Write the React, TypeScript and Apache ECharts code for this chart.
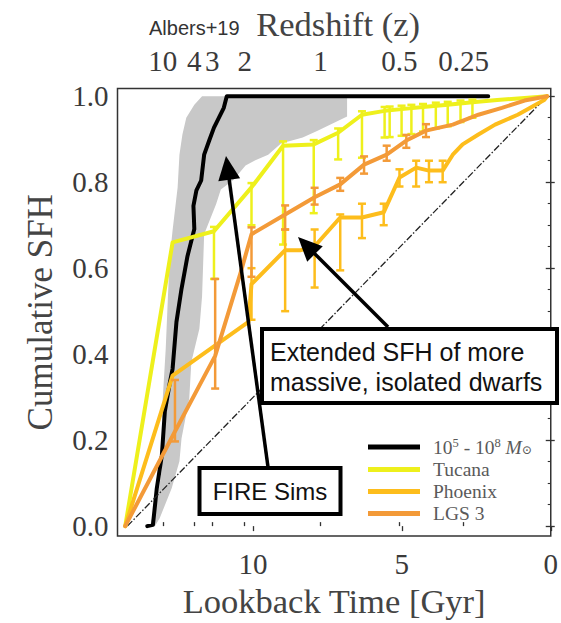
import React, { useEffect, useRef } from "react";
import * as echarts from "echarts";

// Lookback time [Gyr] against cumulative fraction of stellar mass formed.

// FIRE simulated dwarfs, 10^5 - 10^8 Msun: median track
const fireMedian: [number, number][] = [
  [13.55, 0], [13.36, 0.003], [13.23, 0.088], [13.06, 0.165], [12.96, 0.267],
  [12.8, 0.331], [12.7, 0.366], [12.57, 0.475], [12.4, 0.552], [12.2, 0.628],
  [11.97, 0.691], [12.0, 0.745], [11.9, 0.781], [11.74, 0.804], [11.64, 0.864],
  [11.47, 0.897], [11.31, 0.927], [10.98, 0.973], [10.88, 1.0], [2.1, 1.0],
];
// FIRE scatter: early-forming edge (bottom to top)
const fireEarlyEdge: [number, number][] = [
  [13.46, 0], [13.2, 0.065], [13.06, 0.134], [13.03, 0.297], [12.93, 0.413],
  [12.86, 0.528], [12.8, 0.621], [12.7, 0.688], [12.53, 0.788], [12.47, 0.864],
  [12.37, 0.911], [12.24, 0.95], [11.97, 0.98], [11.71, 1.0],
];
// FIRE scatter: late-forming edge (top to bottom)
const fireLateEdge: [number, number][] = [
  [6.84, 1.0], [6.84, 0.953], [7.83, 0.92], [8.33, 0.904], [9.06, 0.89],
  [9.49, 0.864], [9.92, 0.851], [10.25, 0.839], [10.65, 0.806], [11.08, 0.783],
  [11.24, 0.749], [11.64, 0.679], [11.71, 0.535], [11.8, 0.459], [12.07, 0.382],
  [12.14, 0.297], [12.4, 0.204], [12.47, 0.151], [12.73, 0.088], [13.13, 0.019],
  [13.29, 0],
];

const tucana: [number, number][] = [
  [14.29, 0], [12.7, 0.66], [11.31, 0.686], [10.05, 0.788], [8.99, 0.885],
  [7.96, 0.888], [7.14, 0.915], [6.34, 0.957], [5.58, 0.966], [5.01, 0.97],
  [4.29, 0.975], [3.46, 0.98], [2.63, 0.986], [1.8, 0.991], [0.88, 0.996],
  [0.12, 1.0],
];
// [lookback, lower, upper]
const tucanaErr: [number, number, number][] = [
  [11.31, 0.575, 0.696], [10.05, 0.7, 0.798], [8.99, 0.655, 0.895],
  [7.96, 0.728, 0.898], [7.14, 0.853, 0.925], [6.34, 0.857, 0.965],
  [5.58, 0.904, 0.975], [5.41, 0.905, 0.976], [5.01, 0.908, 0.978],
  [4.68, 0.912, 0.98], [4.29, 0.918, 0.982], [3.86, 0.925, 0.985],
  [3.46, 0.93, 0.987], [3.03, 0.94, 0.99], [2.63, 0.95, 0.992],
];

const phoenix: [number, number][] = [
  [14.29, 0], [12.7, 0.35], [10.15, 0.475], [10.05, 0.563], [8.92, 0.642],
  [8.39, 0.642], [7.93, 0.651], [7.07, 0.718], [6.34, 0.718], [5.61, 0.73],
  [5.08, 0.811], [4.52, 0.834], [4.09, 0.827], [3.63, 0.827], [3.29, 0.864],
  [2.96, 0.888], [2.43, 0.911], [1.87, 0.934], [1.11, 0.957], [0.22, 0.991],
  [0.12, 1.0],
];
const phoenixErr: [number, number, number][] = [
  [10.05, 0.48, 0.6], [8.92, 0.5, 0.69], [7.93, 0.555, 0.69], [7.07, 0.595, 0.725],
  [6.34, 0.67, 0.75], [5.61, 0.7, 0.75], [5.08, 0.79, 0.83], [4.52, 0.79, 0.85],
  [4.09, 0.8, 0.85], [3.63, 0.8, 0.85],
];

const lgs3: [number, number][] = [
  [14.29, 0], [12.62, 0.22], [11.27, 0.396], [10.41, 0.591], [10.05, 0.679],
  [8.92, 0.725], [7.93, 0.765], [7.07, 0.795], [6.27, 0.841], [5.51, 0.864],
  [4.85, 0.897], [4.19, 0.92], [3.29, 0.934], [2.43, 0.957], [1.64, 0.973],
  [0.88, 0.99], [0.12, 1.0],
];
const lgs3Err: [number, number, number][] = [
  [12.62, 0.197, 0.34], [11.27, 0.32, 0.575], [10.05, 0.58, 0.695],
  [8.92, 0.69, 0.746], [7.93, 0.748, 0.787], [7.07, 0.78, 0.81],
  [6.27, 0.82, 0.86], [5.51, 0.85, 0.885], [4.85, 0.88, 0.91], [4.19, 0.905, 0.935],
];

// constant star formation reference
const constantSfh: [number, number][] = [[14.22, 0], [0.12, 1.0]];

const lookbackTicks = [0, 5, 10];
const redshiftLabels = ["10", "4", "3", "2", "1", "0.5", "0.25"];
const redshiftLookback = [13.03, 11.97, 11.37, 10.28, 7.73, 5.08, 2.93];
const sfhTicks = [0, 0.2, 0.4, 0.6, 0.8, 1.0];
const sfhMinorTicks = [
  0.05, 0.1, 0.15, 0.25, 0.3, 0.35, 0.45, 0.5, 0.55, 0.65, 0.7, 0.75, 0.85, 0.9, 0.95,
];

const SERIF = "'Liberation Serif', 'DejaVu Serif', serif";
const SANS = "'Liberation Sans', Arial, sans-serif";
const C_TUC = "#eef01c";
const C_PHX = "#fdbd1c";
const C_LGS = "#f39a38";
const INK = "#3a3a3a";

function errorBars(color: string, data: [number, number, number][], z: number) {
  return {
    type: "custom",
    data,
    encode: { x: 0, y: [1, 2] },
    z,
    silent: true,
    renderItem: (_p: any, api: any) => {
      const t = api.value(0);
      const a = api.coord([t, api.value(1)]);
      const b = api.coord([t, api.value(2)]);
      const cap = 4;
      const style = { stroke: color, lineWidth: 2.5 };
      return {
        type: "group",
        children: [
          { type: "line", shape: { x1: a[0], y1: a[1], x2: b[0], y2: b[1] }, style },
          { type: "line", shape: { x1: a[0] - cap, y1: a[1], x2: a[0] + cap, y2: a[1] }, style },
          { type: "line", shape: { x1: b[0] - cap, y1: b[1], x2: b[0] + cap, y2: b[1] }, style },
        ],
      };
    },
  };
}

function track(name: string, color: string, data: [number, number][], z: number, width = 4) {
  return {
    type: "line",
    name,
    data,
    z,
    showSymbol: false,
    silent: true,
    lineStyle: { color, width, cap: "round", join: "round" },
  };
}

function arrow(tail: [number, number], tip: [number, number]) {
  const dx = tip[0] - tail[0];
  const dy = tip[1] - tail[1];
  const len = Math.hypot(dx, dy);
  const ux = dx / len;
  const uy = dy / len;
  const headLen = 24;
  const half = 11;
  const bx = tip[0] - ux * headLen;
  const by = tip[1] - uy * headLen;
  return [
    {
      type: "line",
      shape: { x1: tail[0], y1: tail[1], x2: bx + ux * 4, y2: by + uy * 4 },
      style: { stroke: "#000", lineWidth: 3.5 },
      z: 20,
    },
    {
      type: "polygon",
      shape: {
        points: [
          [tip[0], tip[1]],
          [bx - uy * half, by + ux * half],
          [bx + uy * half, by - ux * half],
        ],
      },
      style: { fill: "#000" },
      z: 20,
    },
  ];
}

function legendRow(y: number, color: string, width: number, label: any) {
  return [
    {
      type: "line",
      shape: { x1: 368, y1: y, x2: 420, y2: y },
      style: { stroke: color, lineWidth: width },
      z: 30,
    },
    {
      type: "text",
      x: 433,
      y,
      style: { ...label, verticalAlign: "middle", align: "left" },
      z: 30,
    },
  ];
}

export default function App() {
  const ref = useRef<HTMLDivElement>(null);

  useEffect(() => {
    if (!ref.current) return;
    const chart = echarts.init(ref.current, null, { renderer: "svg" });
    const xRange = { min: 0, max: 14.55, inverse: true };
    const yRange = { min: -0.023, max: 1.018 };

    const legendLabelStyle = { fontFamily: SERIF, fontSize: 19.5, fill: "#5a5a5a" };

    chart.setOption({
      animation: false,
      backgroundColor: "#fff",
      grid: {
        left: 117.5,
        top: 88.5,
        right: 4.5,
        bottom: 85,
        show: true,
        borderColor: "#333",
        borderWidth: 1.5,
        backgroundColor: "transparent",
      },
      xAxis: [
        {
          type: "value",
          position: "bottom",
          ...xRange,
          name: "Lookback Time [Gyr]",
          nameLocation: "middle",
          nameGap: 47,
          nameTextStyle: { fontFamily: SERIF, fontSize: 34.5, color: "#444" },
          axisLine: { show: false },
          splitLine: { show: false },
          axisTick: { show: true, inside: false, length: 5, customValues: lookbackTicks, lineStyle: { color: "#333", width: 1.3 } },
          axisLabel: {
            customValues: lookbackTicks,
            fontFamily: SERIF,
            fontSize: 29,
            color: INK,
            margin: 13,
            formatter: (v: number) => String(v),
          },
        },
        {
          type: "value",
          position: "top",
          ...xRange,
          name: "Redshift (z)",
          nameLocation: "middle",
          nameGap: 43,
          nameTextStyle: { fontFamily: SERIF, fontSize: 34.5, color: "#444", padding: [0, 0, 0, 8] },
          axisLine: { show: false },
          splitLine: { show: false },
          axisTick: { show: true, inside: false, length: 4, customValues: redshiftLookback, lineStyle: { color: "#333", width: 1.3 } },
          axisLabel: {
            customValues: redshiftLookback,
            fontFamily: SERIF,
            fontSize: 29,
            color: INK,
            margin: 13,
            formatter: (v: number) => redshiftLabels[redshiftLookback.indexOf(v)] ?? "",
          },
        },
      ],
      yAxis: [
        {
          type: "value",
          position: "left",
          ...yRange,
          name: "Cumulative SFH",
          nameLocation: "middle",
          nameGap: 60,
          nameRotate: 90,
          nameTextStyle: { fontFamily: SERIF, fontSize: 35, color: "#444" },
          axisLine: { show: false },
          splitLine: { show: false },
          axisTick: { show: true, inside: false, length: 5, customValues: sfhTicks, lineStyle: { color: "#333", width: 1.3 } },
          axisLabel: {
            customValues: sfhTicks,
            fontFamily: SERIF,
            fontSize: 29,
            color: INK,
            margin: 9,
            formatter: (v: number) => v.toFixed(1),
          },
        },
        {
          type: "value",
          position: "left",
          ...yRange,
          axisLine: { show: false },
          splitLine: { show: false },
          axisLabel: { show: false },
          axisTick: { show: true, inside: false, length: 3, customValues: sfhMinorTicks, lineStyle: { color: "#333", width: 1.1 } },
        },
        {
          type: "value",
          position: "right",
          ...yRange,
          axisLine: { show: false },
          splitLine: { show: false },
          axisLabel: { show: false },
          axisTick: { show: true, inside: false, length: 4, customValues: sfhTicks, lineStyle: { color: "#333", width: 1.3 } },
        },
      ],
      series: [
        {
          type: "custom",
          data: [...fireEarlyEdge, ...fireLateEdge],
          encode: { x: 0, y: 1 },
          z: 1,
          silent: true,
          renderItem: (p: any, api: any) => {
            if (p.dataIndex !== 0) return null;
            const pts = [...fireEarlyEdge, ...fireLateEdge].map((d) => api.coord(d));
            return { type: "polygon", shape: { points: pts }, style: { fill: "#c8c8c8" } };
          },
        },
        track("10^5 - 10^8 Msun", "#000", fireMedian, 2, 4),
        {
          type: "line",
          data: constantSfh,
          z: 2,
          showSymbol: false,
          silent: true,
          lineStyle: { color: "#222", width: 1.3, type: [7, 2, 1.5, 2] },
        },
        errorBars(C_TUC, tucanaErr, 3),
        track("Tucana", C_TUC, tucana, 3),
        errorBars(C_PHX, phoenixErr, 4),
        track("Phoenix", C_PHX, phoenix, 4),
        errorBars(C_LGS, lgs3Err, 5),
        track("LGS 3", C_LGS, lgs3, 5),
      ],
      graphic: [
        {
          type: "text",
          x: 149,
          y: 28,
          style: { text: "Albers+19", fontFamily: SANS, fontSize: 20, fill: "#333", verticalAlign: "middle" },
        },
        ...arrow([268, 467], [226, 156]),
        ...arrow([388, 327], [298, 237]),
        {
          type: "rect",
          shape: { x: 199.5, y: 468, width: 141, height: 46 },
          style: { fill: "#fff", stroke: "#000", lineWidth: 4 },
          z: 21,
        },
        {
          type: "text",
          x: 270,
          y: 491,
          style: { text: "FIRE Sims", fontFamily: SANS, fontSize: 24, fill: "#111", align: "center", verticalAlign: "middle" },
          z: 22,
        },
        {
          type: "rect",
          shape: { x: 262, y: 329, width: 295, height: 74 },
          style: { fill: "#fff", stroke: "#000", lineWidth: 4 },
          z: 21,
        },
        {
          type: "text",
          x: 270,
          y: 352,
          style: { text: "Extended SFH of more", fontFamily: SANS, fontSize: 25, fill: "#111", verticalAlign: "middle" },
          z: 22,
        },
        {
          type: "text",
          x: 270,
          y: 382,
          style: { text: "massive, isolated dwarfs", fontFamily: SANS, fontSize: 25, fill: "#111", verticalAlign: "middle" },
          z: 22,
        },
        ...legendRow(447, "#000", 5, {
          text: "{n|10}{s|5}{n| - 10}{s|8}{n| }{m|M}{b|⊙}",
          rich: {
            n: { ...legendLabelStyle },
            s: { ...legendLabelStyle, fontSize: 12.5, padding: [0, 0, 8, 0] },
            m: { ...legendLabelStyle, fontStyle: "italic" },
            b: { ...legendLabelStyle, fontSize: 12.5, padding: [6, 0, 0, 0] },
          },
        }),
        ...legendRow(469.5, C_TUC, 5, { text: "Tucana", ...legendLabelStyle }),
        ...legendRow(491.5, C_PHX, 5, { text: "Phoenix", ...legendLabelStyle }),
        ...legendRow(513.5, C_LGS, 5, { text: "LGS 3", ...legendLabelStyle }),
      ],
    });
    return () => chart.dispose();
  }, []);

  return (
    <div
      ref={ref}
      style={{ position: "fixed", left: 0, top: 0, width: 561, height: 623, background: "#fff" }}
    />
  );
}
